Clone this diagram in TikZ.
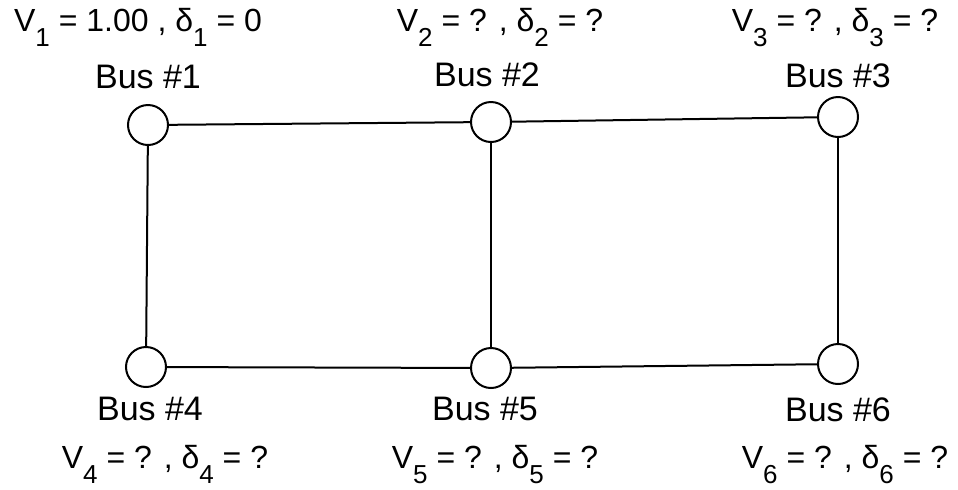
\documentclass[tikz,border=0pt]{standalone}
\usepackage{fontspec}
\setmainfont{Liberation Sans}
\usetikzlibrary{positioning}
\newcommand\lowidx[1]{\raisebox{-0.9ex}{\fontsize{13}{13}\selectfont #1}}

\begin{document}
\begin{tikzpicture}[x=0.5pt,y=-0.5pt,
  bus/.style={circle,draw,line width=1pt,minimum size=20pt,inner sep=0pt,fill=white},
  line/.style={line width=1pt},
  lbl/.style={anchor=base,font=\fontsize{17}{19}\selectfont,inner sep=0pt},
  qty/.style={anchor=base,font=\fontsize{16}{18}\selectfont,inner sep=0pt}]
\useasboundingbox (0,0) rectangle (958,489);
% Buses
\node[bus] (b1) at (148,125) {};
\node[bus] (b2) at (491,122) {};
\node[bus] (b3) at (838,117) {};
\node[bus] (b4) at (146,367) {};
\node[bus] (b5) at (491,368) {};
\node[bus] (b6) at (838,364) {};
% Lines
\draw[line] (b1) -- (b2);
\draw[line] (b2) -- (b3);
\draw[line] (b4) -- (b5);
\draw[line] (b5) -- (b6);
\draw[line] (b1) -- (b4);
\draw[line] (b2) -- (b5);
\draw[line] (b3) -- (b6);
% Bus names
\node[lbl] (n1) at (148,88) {Bus \#1};
\node[lbl] (n2) at (487,86) {Bus \#2};
\node[lbl] (n3) at (838,87) {Bus \#3};
\node[lbl] (n4) at (150,420) {Bus \#4};
\node[lbl] (n5) at (485,420) {Bus \#5};
\node[lbl] (n6) at (838,421) {Bus \#6};
% Bus quantities
\node[qty] (v1) at (138,31) {V\lowidx{1} = 1.00 , δ\lowidx{1} = 0};
\node[qty] (v2) at (500,31) {V\lowidx{2} = ? , δ\lowidx{2} = ?};
\node[qty] (v3) at (835,31) {V\lowidx{3} = ? , δ\lowidx{3} = ?};
\node[qty] (v4) at (165,468) {V\lowidx{4} = ? , δ\lowidx{4} = ?};
\node[qty] (v5) at (495,468) {V\lowidx{5} = ? , δ\lowidx{5} = ?};
\node[qty] (v6) at (845,468) {V\lowidx{6} = ? , δ\lowidx{6} = ?};
\end{tikzpicture}
\end{document}
